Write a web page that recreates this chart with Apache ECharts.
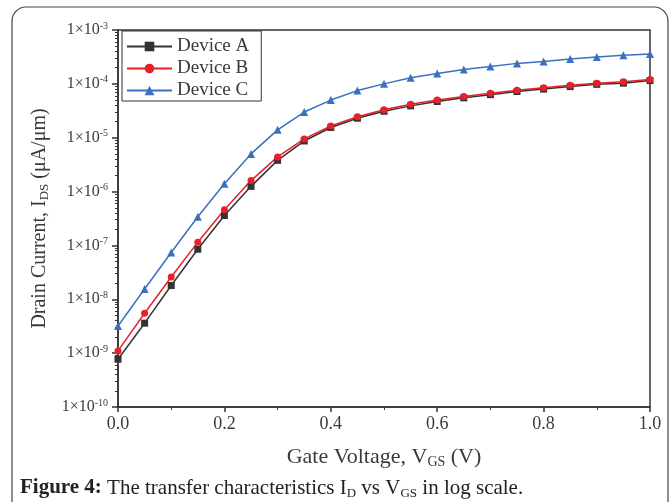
<!DOCTYPE html>
<html>
<head>
<meta charset="utf-8">
<script src="https://cdn.jsdelivr.net/npm/echarts@6/dist/echarts.min.js"></script>
<style>
  html, body { margin: 0; padding: 0; background: #fff; }
  #chart { width: 671px; height: 502px; }
</style>
</head>
<body>
<div id="chart"></div>
<script>
// gate voltage (V)
const vgs = [0, 0.05, 0.1, 0.15, 0.2, 0.25, 0.3, 0.35, 0.4, 0.45, 0.5,
             0.55, 0.6, 0.65, 0.7, 0.75, 0.8, 0.85, 0.9, 0.95, 1.0];
// drain current (uA/um)
const deviceA = [7.7e-10, 3.6e-9, 1.8e-8, 8.5e-8, 3.6e-7, 1.25e-6, 3.8e-6, 8.7e-6, 1.55e-5, 2.3e-5, 3.1e-5,
                 3.9e-5, 4.7e-5, 5.5e-5, 6.3e-5, 7.2e-5, 8.0e-5, 8.9e-5, 9.8e-5, 1.03e-4, 1.15e-4];
const deviceB = [1.1e-9, 5.5e-9, 2.6e-8, 1.15e-7, 4.6e-7, 1.6e-6, 4.4e-6, 9.5e-6, 1.65e-5, 2.45e-5, 3.3e-5,
                 4.2e-5, 5.0e-5, 5.8e-5, 6.7e-5, 7.6e-5, 8.5e-5, 9.4e-5, 1.03e-4, 1.1e-4, 1.2e-4];
const deviceC = [3.2e-9, 1.55e-8, 7.4e-8, 3.4e-7, 1.4e-6, 5.0e-6, 1.4e-5, 3.0e-5, 5.0e-5, 7.5e-5, 1.0e-4,
                 1.3e-4, 1.55e-4, 1.85e-4, 2.1e-4, 2.4e-4, 2.6e-4, 2.9e-4, 3.15e-4, 3.4e-4, 3.6e-4];

const seriesNames = ['Device A', 'Device B', 'Device C'];
const seriesColors = ['#333333', '#e8202a', '#3b6fc0'];
const seriesSymbols = ['rect', 'circle', 'triangle'];

const FONT = '"Liberation Serif", "DejaVu Serif", serif';
const TEXT = '#3a3a3a';

const chart = echarts.init(document.getElementById('chart'), null, { renderer: 'canvas' });

const pairs = d => vgs.map((v, i) => [v, d[i]]);

const option = {
  backgroundColor: '#fff',
  animation: false,
  textStyle: { fontFamily: FONT },
  grid: {
    left: 118, top: 30, right: 21, bottom: 95,
    show: true, borderColor: '#333', borderWidth: 1.5
  },
  legend: {
    orient: 'vertical',
    left: 122, top: 31,
    itemWidth: 45, itemHeight: 12, itemGap: 3,
    padding: [6, 12, 1, 4],
    borderColor: '#333', borderWidth: 1,
    backgroundColor: '#fff',
    textStyle: { fontFamily: FONT, fontSize: 19, color: TEXT },
    data: seriesNames
  },
  xAxis: {
    type: 'value',
    min: 0, max: 1, interval: 0.2,
    name: 'Gate Voltage, V{sub|GS} (V)',
    nameLocation: 'middle',
    nameGap: 38,
    nameTextStyle: {
      fontFamily: FONT, fontSize: 22, color: TEXT, lineHeight: 24,
      rich: { sub: { fontFamily: FONT, fontSize: 14, color: TEXT, verticalAlign: 'bottom', lineHeight: 24, padding: [7, 0, 0, 0] } }
    },
    axisLine: { lineStyle: { color: '#333', width: 1.5 } },
    axisTick: { length: 5, lineStyle: { color: '#333', width: 1.5 } },
    minorTick: { show: true, splitNumber: 2, length: 3, lineStyle: { color: '#333' } },
    splitLine: { show: false },
    axisLabel: {
      fontFamily: FONT, fontSize: 18, color: TEXT, margin: 8,
      formatter: v => v.toFixed(1)
    }
  },
  yAxis: {
    type: 'log',
    logBase: 10,
    min: 1e-10, max: 1e-3,
    name: 'Drain Current, I{sub|DS} (μA/μm)',
    nameLocation: 'middle',
    nameRotate: 90,
    nameGap: 66,
    nameTextStyle: {
      fontFamily: FONT, fontSize: 20, color: TEXT, lineHeight: 22,
      rich: { sub: { fontFamily: FONT, fontSize: 13, color: TEXT, verticalAlign: 'bottom', lineHeight: 22, padding: [7, 0, 0, 0] } }
    },
    axisLine: { lineStyle: { color: '#333', width: 1.5 } },
    axisTick: { length: 6, lineStyle: { color: '#333', width: 1.5 } },
    minorTick: { show: true, splitNumber: 9, length: 3, lineStyle: { color: '#333' } },
    splitLine: { show: false },
    axisLabel: {
      fontFamily: FONT, fontSize: 16, color: TEXT, margin: 10,
      lineHeight: 18,
      formatter: v => '1×10{sup|' + Math.round(Math.log10(v)) + '}',
      rich: { sup: { fontFamily: FONT, fontSize: 10, color: TEXT, verticalAlign: 'top', lineHeight: 18, padding: [0, 0, 8, 0] } }
    }
  },
  series: seriesNames.map((name, i) => ({
    name,
    type: 'line',
    data: pairs([deviceA, deviceB, deviceC][i]),
    symbol: seriesSymbols[i],
    symbolSize: i === 2 ? 8 : 7,
    showAllSymbol: true,
    itemStyle: { color: seriesColors[i] },
    lineStyle: { color: seriesColors[i], width: 1.5 }
  })),
  graphic: [
    {
      type: 'rect',
      silent: true,
      shape: { x: 12, y: 7, width: 656, height: 530, r: 14 },
      style: { fill: 'none', stroke: '#444', lineWidth: 1.2 }
    },
    {
      type: 'text',
      left: 20, top: 476,
      style: {
        text: '{b|Figure 4:} The transfer characteristics I{s|D} vs V{s|GS} in log scale.',
        fontFamily: FONT, fontSize: 21, fill: '#222', lineHeight: 24,
        rich: {
          b: { fontFamily: FONT, fontSize: 21, fontWeight: 'bold', fill: '#222', lineHeight: 24 },
          s: { fontFamily: FONT, fontSize: 13, fill: '#222', verticalAlign: 'bottom', lineHeight: 24, padding: [7, 0, 0, 0] }
        }
      }
    }
  ]
};

chart.setOption(option);
</script>
</body>
</html>
